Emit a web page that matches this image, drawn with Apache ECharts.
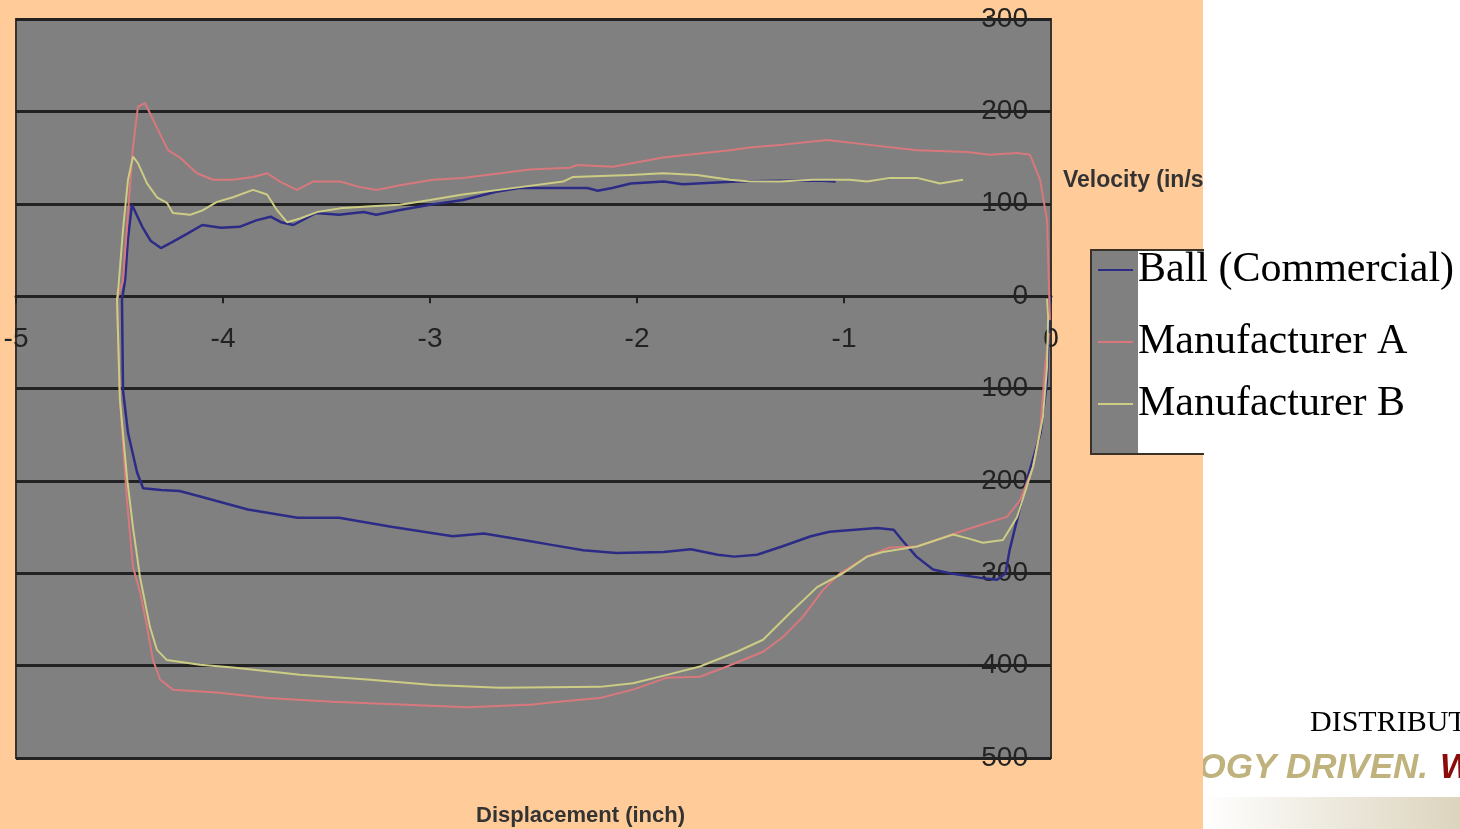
<!DOCTYPE html>
<html>
<head>
<meta charset="utf-8">
<script src="https://cdn.jsdelivr.net/npm/echarts@6/dist/echarts.min.js"></script>
<style>
html,body{margin:0;padding:0;background:#fff;}
#main{width:1460px;height:829px;}
</style>
</head>
<body>
<div id="main"></div>
<script>
// ---- data (displacement in inch, velocity in in/s) ----
const seriesNames = ['Ball (Commercial)', 'Manufacturer A', 'Manufacturer B'];
const xTickValues = [-5, -4, -3, -2, -1, 0];
const yTickValues = [-500, -400, -300, -200, -100, 0, 100, 200, 300];

const ballData = [
[-1.04,124],[-1.10,125],[-1.30,125],[-1.52,124],[-1.71,122],[-1.78,121],[-1.87,124],[-2.03,122],[-2.12,117],[-2.19,114],[-2.24,117],[-2.57,117],[-2.68,113],[-2.84,104],[-3.00,99],[-3.15,93],[-3.26,88],[-3.32,91],[-3.44,88],[-3.55,90],[-3.66,77],[-3.72,80],[-3.77,86],[-3.84,82],[-3.92,75],[-4.01,74],[-4.10,77],[-4.17,68],[-4.25,58],[-4.30,52],[-4.35,60],[-4.39,75],[-4.44,99],[-4.46,60],[-4.473,17],[-4.488,-4],[-4.483,-102],[-4.459,-148],[-4.415,-191],[-4.386,-208],[-4.30,-210],[-4.21,-211],[-4.11,-217],[-3.88,-231],[-3.64,-240],[-3.44,-240],[-3.18,-250],[-2.89,-260],[-2.74,-257],[-2.50,-266],[-2.42,-269],[-2.26,-275],[-2.10,-278],[-1.87,-277],[-1.74,-274],[-1.61,-280],[-1.53,-282],[-1.42,-280],[-1.30,-271],[-1.16,-260],[-1.07,-255],[-0.84,-251],[-0.76,-253],[-0.72,-264],[-0.65,-282],[-0.57,-296],[-0.49,-300],[-0.34,-305],[-0.26,-307],[-0.22,-300],[-0.20,-275],[-0.12,-202],[-0.05,-148],[-0.02,-94],[-0.005,0]
];

const mfrAData = [
[-0.005,-26],[-0.019,82],[-0.053,126],[-0.101,153],[-0.164,155],[-0.295,153],[-0.406,156],[-0.647,158],[-0.889,164],[-1.082,169],[-1.295,164],[-1.454,161],[-1.551,158],[-1.874,150],[-2.116,140],[-2.29,142],[-2.324,139],[-2.517,137],[-2.841,128],[-2.986,126],[-3.145,120],[-3.256,115],[-3.338,118],[-3.435,124],[-3.565,124],[-3.643,115],[-3.725,124],[-3.787,133],[-3.855,129],[-3.952,126],[-4.048,126],[-4.126,133],[-4.208,150],[-4.266,158],[-4.314,180],[-4.353,198],[-4.377,209],[-4.411,205],[-4.435,161],[-4.459,90],[-4.483,17],[-4.512,-4],[-4.498,-112],[-4.464,-221],[-4.435,-293],[-4.40,-321],[-4.367,-358],[-4.338,-394],[-4.304,-415],[-4.242,-426],[-4.029,-429],[-3.787,-435],[-3.469,-439],[-3.145,-442],[-2.821,-445],[-2.502,-442],[-2.42,-440],[-2.179,-435],[-2.019,-426],[-1.855,-413],[-1.696,-412],[-1.565,-401],[-1.391,-385],[-1.295,-369],[-1.198,-347],[-1.101,-318],[-1.019,-300],[-0.889,-282],[-0.778,-272],[-0.647,-271],[-0.44,-255],[-0.329,-247],[-0.213,-239],[-0.15,-221],[-0.087,-185],[-0.053,-148],[-0.029,-77],[-0.01,-40]
];

const mfrBData = [
[-0.425,126],[-0.536,122],[-0.647,128],[-0.778,128],[-0.889,124],[-0.971,126],[-1.15,126],[-1.309,124],[-1.454,124],[-1.551,126],[-1.71,131],[-1.874,133],[-2.034,131],[-2.309,129],[-2.357,124],[-2.565,118],[-2.841,110],[-3.0,104],[-3.145,99],[-3.304,97],[-3.435,95],[-3.546,91],[-3.628,84],[-3.691,80],[-3.739,93],[-3.787,110],[-3.855,115],[-3.952,107],[-4.029,102],[-4.097,93],[-4.159,88],[-4.242,90],[-4.271,101],[-4.319,107],[-4.367,122],[-4.411,144],[-4.435,151],[-4.459,126],[-4.483,72],[-4.505,10],[-4.512,-4],[-4.498,-112],[-4.464,-196],[-4.435,-250],[-4.401,-304],[-4.353,-358],[-4.319,-383],[-4.271,-394],[-4.111,-399],[-3.952,-402],[-3.628,-410],[-3.304,-415],[-2.986,-421],[-2.662,-424],[-2.179,-423],[-2.019,-419],[-1.855,-410],[-1.696,-401],[-1.517,-385],[-1.391,-372],[-1.261,-343],[-1.13,-315],[-1.005,-300],[-0.889,-282],[-0.812,-277],[-0.647,-271],[-0.473,-258],[-0.406,-262],[-0.329,-267],[-0.232,-264],[-0.164,-239],[-0.087,-185],[-0.039,-131],[-0.019,-76],[-0.014,-22],[-0.019,-3]
];

const seriesData = [ballData, mfrAData, mfrBData];
const seriesColors = ['#2c2c86', '#d8787c', '#cccc84'];
const seriesWidths = [2.5, 2, 2];

// ---- layout ----
const W = 1460, H = 829;
const grid = {left: 16, right: 409, top: 19, bottom: 71};
const plotH = H - grid.top - grid.bottom;
const yMin = yTickValues[0], yMax = yTickValues[yTickValues.length - 1];
// distance from plot bottom to the y = 0 line, so the x axis sits on zero
const zeroOffset = plotH * (0 - yMin) / (yMax - yMin);

const chart = echarts.init(document.getElementById('main'), null, {renderer: 'canvas'});
const legendTops = [247, 319, 381];

const option = {
  backgroundColor: '#FFCC99',
  animation: false,
  grid: Object.assign({show: true, backgroundColor: '#808080', borderColor: '#3a3128', borderWidth: 2}, grid),
  xAxis: {
    type: 'value', min: xTickValues[0], max: xTickValues[xTickValues.length - 1], interval: 1,
    position: 'bottom', offset: -zeroOffset,
    axisLine: {show: true, onZero: false, lineStyle: {color: '#222', width: 3}},
    axisTick: {show: true, length: 7, lineStyle: {color: '#222', width: 2}},
    axisLabel: {
      margin: 29, color: '#222', fontSize: 28,
      fontFamily: 'Liberation Sans, Arial, sans-serif',
      showMinLabel: true, showMaxLabel: true
    },
    splitLine: {show: false}
  },
  yAxis: {
    type: 'value', position: 'right',
    min: yMin, max: yMax, interval: 100,
    axisLine: {show: false},
    axisTick: {show: false},
    axisLabel: {
      inside: true, margin: 23, color: '#222', fontSize: 28,
      fontFamily: 'Liberation Sans, Arial, sans-serif'
    },
    splitLine: {show: true, lineStyle: {color: '#222', width: 3}}
  },
  legend: seriesNames.map((n, i) => ({
    data: [n], left: 1098, top: legendTops[i], orient: 'vertical',
    padding: 0, icon: 'rect', itemWidth: 35, itemHeight: 2,
    selectedMode: false, z: 8,
    textStyle: {fontFamily: 'Liberation Serif, Times New Roman, serif', fontSize: 42, color: '#000', lineHeight: 46}
  })),
  graphic: [
    {type: 'text', left: 1063, top: 169, z: 0,
     style: {text: 'Velocity (in/s)', fontFamily: 'Liberation Sans, Arial, sans-serif', fontWeight: 'bold', fontSize: 23, fill: '#333'}},
    {type: 'text', left: 476, top: 805, z: 0,
     style: {text: 'Displacement (inch)', fontFamily: 'Liberation Sans, Arial, sans-serif', fontWeight: 'bold', fontSize: 22, fill: '#333'}},
    {type: 'rect', shape: {x: 1203, y: 0, width: 257, height: 829}, z: 1, style: {fill: '#ffffff'}},
    {type: 'rect', shape: {x: 1203, y: 797, width: 257, height: 32}, z: 2,
     style: {fill: new echarts.graphic.LinearGradient(0, 0, 1, 0, [{offset: 0, color: '#ffffff'}, {offset: 1, color: '#dcd4bd'}])}},
    {type: 'text', x: 1428, y: 768, z: 2,
     style: {
       text: '{h|TECHNO}{v|LOGY DRIVEN.}', textAlign: 'right', textVerticalAlign: 'middle',
       fontFamily: 'Liberation Sans, Arial, sans-serif', fontWeight: 'bold', fontStyle: 'italic', fontSize: 35,
       rich: {
         h: {fill: 'rgba(0,0,0,0)', fontFamily: 'Liberation Sans, Arial, sans-serif', fontWeight: 'bold', fontStyle: 'italic', fontSize: 35},
         v: {fill: '#c0b27c', fontFamily: 'Liberation Sans, Arial, sans-serif', fontWeight: 'bold', fontStyle: 'italic', fontSize: 35}
       }
     }},
    {type: 'text', x: 1440, y: 768, z: 2,
     style: {text: 'WARFIGHTER FOCUSED.', textAlign: 'left', textVerticalAlign: 'middle', fontFamily: 'Liberation Sans, Arial, sans-serif', fontWeight: 'bold', fontStyle: 'italic', fontSize: 35, fill: '#8b0a0a'}},
    {type: 'rect', shape: {x: 1053, y: 740, width: 150, height: 60}, z: 3, style: {fill: '#FFCC99'}},
    {type: 'text', x: 1310, y: 723, z: 2,
     style: {text: 'DISTRIBUTION STATEMENT A', textAlign: 'left', textVerticalAlign: 'middle', fontFamily: 'Liberation Serif, Times New Roman, serif', fontSize: 30, fill: '#000'}},
    {type: 'rect', shape: {x: 1091, y: 250, width: 112, height: 204}, z: 4,
     style: {fill: '#808080', stroke: '#3a3128', lineWidth: 2}},
    {type: 'rect', shape: {x: 1138, y: 251, width: 70, height: 202}, z: 5, style: {fill: '#ffffff'}}
  ],
  series: seriesNames.map((n, i) => ({
    name: n, type: 'line', data: seriesData[i],
    showSymbol: false, smooth: false, z: 2 + i,
    color: seriesColors[i],
    lineStyle: {color: seriesColors[i], width: seriesWidths[i]}
  }))
};
chart.setOption(option);
</script>
</body>
</html>
